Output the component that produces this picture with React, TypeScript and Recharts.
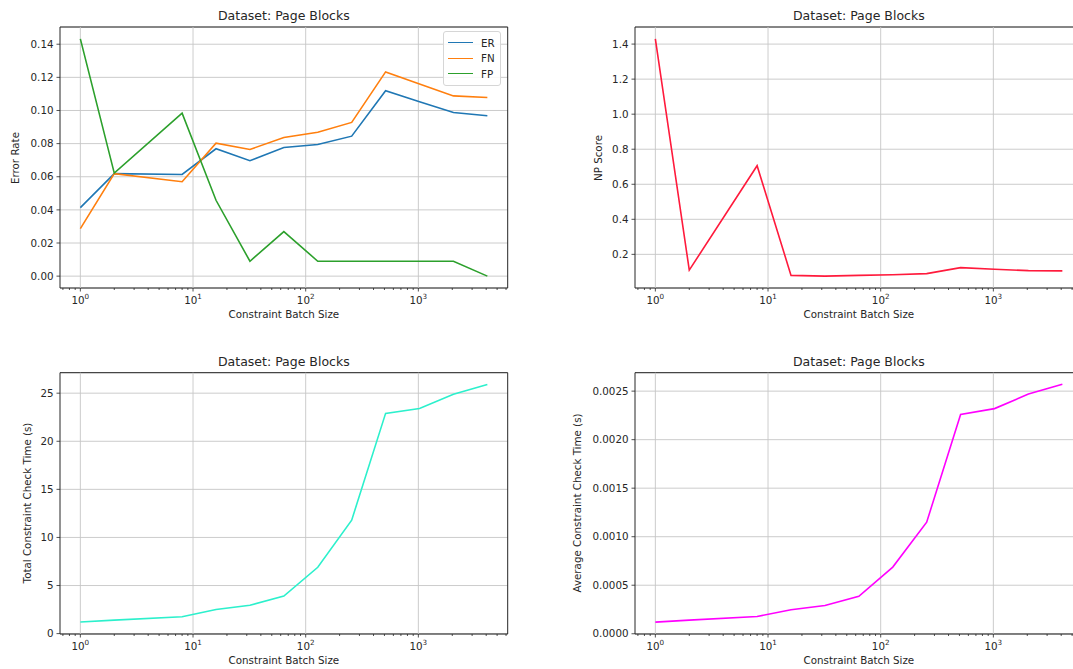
import React from 'react';
import {
  LineChart,
  Line,
  XAxis,
  YAxis,
  CartesianGrid,
  ReferenceLine,
  ReferenceArea,
  Legend,
} from 'recharts';

// x values: constraint batch sizes (log axis)
const batchSizes = [1, 2, 8, 16, 32, 64, 128, 256, 512, 1024, 2048, 4096];

// error rates
const erValues = [0.0414, 0.0619, 0.0614, 0.0769, 0.0697, 0.0777, 0.0795, 0.0845, 0.1119, 0.1053, 0.0988, 0.0968];
const fnValues = [0.0287, 0.0619, 0.057, 0.0803, 0.0765, 0.0837, 0.0869, 0.0928, 0.1233, 0.116, 0.1088, 0.1078];
const fpValues = [0.1432, 0.0622, 0.0984, 0.0458, 0.009, 0.0269, 0.009, 0.009, 0.009, 0.009, 0.009, 0.0];

// NP score
const npScores = [1.43, 0.11, 0.706, 0.08, 0.076, 0.08, 0.084, 0.09, 0.124, 0.115, 0.107, 0.106];

// check times
const totalTimes = [1.2, 1.4, 1.75, 2.5, 2.95, 3.9, 6.9, 11.8, 22.9, 23.4, 24.9, 25.9];
const avgTimes = [0.00012, 0.00014, 0.000178, 0.000248, 0.000292, 0.000385, 0.000687, 0.00115, 0.00226, 0.00232, 0.00247, 0.00257];

// tick labels
const majorTicks = [1, 10, 100, 1000];
const minorTicks = [
  0.7, 0.8, 0.9,
  2, 3, 4, 5, 6, 7, 8, 9,
  20, 30, 40, 50, 60, 70, 80, 90,
  200, 300, 400, 500, 600, 700, 800, 900,
  2000, 3000, 4000, 5000, 6000,
];
const errorTicks = [0, 0.02, 0.04, 0.06, 0.08, 0.1, 0.12, 0.14];
const npTicks = [0.2, 0.4, 0.6, 0.8, 1.0, 1.2, 1.4];
const totalTicks = [0, 5, 10, 15, 20, 25];
const avgTicks = [0, 0.0005, 0.001, 0.0015, 0.002, 0.0025];

const X_DOMAIN: [number, number] = [0.6597, 6208];
const FONT = 'DejaVu Sans, sans-serif';
const INK = '#262626';
const GRID = '#c6c6c6';
const allXTicks = [...majorTicks, ...minorTicks].sort((a, b) => a - b);

type Series = { key: string; name: string; color: string; values: number[] };

const LogTick = (props: any) => {
  const { x, y, payload } = props;
  const v = payload.value;
  const major = majorTicks.includes(v);
  return (
    <g>
      <line x1={x} x2={x} y1={y} y2={y + (major ? 3.5 : 2)} stroke={INK} strokeWidth={0.8} />
      {major && (
        <text x={x} y={y + 16} textAnchor="middle" fill={INK} fontSize={10.3} fontFamily={FONT}>
          10
          <tspan dy={-5} fontSize={7.2}>
            {Math.round(Math.log10(v))}
          </tspan>
        </text>
      )}
    </g>
  );
};

const LegendBox = ({ series }: { series: Series[] }) => (
  <div
    style={{
      border: '1px solid #d6d6d6',
      borderRadius: 3,
      background: 'rgba(255,255,255,0.85)',
      padding: '3px 5px 3px 4px',
      fontFamily: FONT,
      fontSize: 10.3,
      color: INK,
    }}
  >
    {series.map(s => (
      <div key={s.key} style={{ display: 'flex', alignItems: 'center', height: 15.5 }}>
        <div style={{ width: 25, height: 0, borderTop: `1.6px solid ${s.color}`, marginRight: 8 }} />
        <span>{s.name}</span>
      </div>
    ))}
  </div>
);

type PanelProps = {
  left: number;
  top: number;
  width: number;
  height: number;
  plotLeft: number;
  plotTop: number;
  plotW: number;
  plotH: number;
  yDomain: [number, number];
  yTicks: number[];
  yDigits: number;
  series: Series[];
  title: string;
  yLabel: string;
  yLabelX: number;
  legend?: boolean;
};

const Y_AXIS_W = 60;

const Panel = ({
  left, top, width, height, plotLeft, plotTop, plotW, plotH,
  yDomain, yTicks, yDigits, series, title, yLabel, yLabelX, legend,
}: PanelProps) => {
  const rows = batchSizes.map((b, i) => {
    const r: any = { batch: b };
    series.forEach(s => (r[s.key] = s.values[i]));
    return r;
  });
  const xAxisH = height - plotTop - plotH;
  const margin = {
    top: plotTop,
    left: plotLeft - Y_AXIS_W,
    right: width - plotLeft - plotW,
    bottom: 0,
  };
  const cx = plotLeft + plotW / 2;
  const textStyle: React.CSSProperties = {
    position: 'absolute',
    fontFamily: FONT,
    color: INK,
    whiteSpace: 'nowrap',
    lineHeight: 1,
  };

  return (
    <div style={{ position: 'absolute', left, top, width, height }}>
      <LineChart width={width} height={height} data={rows} margin={margin}>
        <CartesianGrid vertical={false} stroke={GRID} strokeWidth={0.9} />
        {majorTicks.map(t => (
          <ReferenceLine key={t} x={t} stroke={GRID} strokeWidth={0.9} />
        ))}
        <XAxis
          dataKey="batch"
          type="number"
          scale="log"
          domain={X_DOMAIN}
          allowDataOverflow
          ticks={allXTicks}
          interval={0}
          tick={<LogTick />}
          tickLine={false}
          axisLine={false}
          tickSize={0}
          tickMargin={0}
          height={xAxisH}
        />
        <YAxis
          type="number"
          domain={yDomain}
          allowDataOverflow
          ticks={yTicks}
          interval={0}
          tickFormatter={(v: number) => v.toFixed(yDigits)}
          tick={{ fill: INK, fontSize: 10.3, fontFamily: FONT }}
          tickLine={{ stroke: INK, strokeWidth: 0.8 }}
          axisLine={false}
          tickSize={3.5}
          tickMargin={3}
          width={Y_AXIS_W}
        />
        {series.map(s => (
          <Line
            key={s.key}
            type="linear"
            dataKey={s.key}
            name={s.name}
            stroke={s.color}
            strokeWidth={1.6}
            dot={false}
            isAnimationActive={false}
          />
        ))}
        <ReferenceArea
          x1={X_DOMAIN[0]}
          x2={X_DOMAIN[1]}
          y1={yDomain[0]}
          y2={yDomain[1]}
          fill="none"
          stroke={INK}
          strokeWidth={1}
          ifOverflow="visible"
        />
        {legend && (
          <Legend
            layout="vertical"
            align="center"
            verticalAlign="middle"
            wrapperStyle={{ left: 443, top: 31, width: 'auto', height: 'auto' }}
            content={() => <LegendBox series={series} />}
          />
        )}
      </LineChart>
      <div style={{ ...textStyle, left: cx, top: plotTop - 11, transform: 'translate(-50%, -50%)', fontSize: 12.5 }}>
        {title}
      </div>
      <div style={{ ...textStyle, left: cx, top: plotTop + plotH + 26, transform: 'translate(-50%, -50%)', fontSize: 10.3 }}>
        Constraint Batch Size
      </div>
      <div
        style={{
          ...textStyle,
          left: yLabelX,
          top: plotTop + plotH / 2,
          transform: 'translate(-50%, -50%) rotate(-90deg)',
          fontSize: 10.3,
        }}
      >
        {yLabel}
      </div>
    </div>
  );
};

const PLOT_W = 447.7;

export default function App() {
  return (
    <div
      style={{
        position: 'fixed',
        left: 0,
        top: 0,
        width: 1073,
        height: 669,
        overflow: 'hidden',
        background: '#fff',
      }}
    >
      <Panel
        left={0}
        top={0}
        width={537}
        height={334}
        plotLeft={60}
        plotTop={27}
        plotW={PLOT_W}
        plotH={261}
        yDomain={[-0.00716, 0.1504]}
        yTicks={errorTicks}
        yDigits={2}
        series={[
          { key: 'er', name: 'ER', color: '#1f77b4', values: erValues },
          { key: 'fn', name: 'FN', color: '#ff7f0e', values: fnValues },
          { key: 'fp', name: 'FP', color: '#2ca02c', values: fpValues },
        ]}
        title="Dataset: Page Blocks"
        yLabel="Error Rate"
        yLabelX={15}
        legend
      />
      <Panel
        left={537}
        top={0}
        width={560}
        height={334}
        plotLeft={98}
        plotTop={27}
        plotW={PLOT_W}
        plotH={261}
        yDomain={[0.008, 1.4975]}
        yTicks={npTicks}
        yDigits={1}
        series={[{ key: 'np', name: 'NP Score', color: '#ff1a3c', values: npScores }]}
        title="Dataset: Page Blocks"
        yLabel="NP Score"
        yLabelX={61}
      />
      <Panel
        left={0}
        top={334}
        width={537}
        height={335}
        plotLeft={60}
        plotTop={38.7}
        plotW={PLOT_W}
        plotH={261.3}
        yDomain={[-0.04, 27.13]}
        yTicks={totalTicks}
        yDigits={0}
        series={[{ key: 'total', name: 'Total', color: '#2cf0cc', values: totalTimes }]}
        title="Dataset: Page Blocks"
        yLabel="Total Constraint Check Time (s)"
        yLabelX={27}
      />
      <Panel
        left={537}
        top={334}
        width={560}
        height={335}
        plotLeft={98}
        plotTop={38.7}
        plotW={PLOT_W}
        plotH={261.3}
        yDomain={[-0.0000025, 0.00269]}
        yTicks={avgTicks}
        yDigits={4}
        series={[{ key: 'avg', name: 'Average', color: '#ff00ff', values: avgTimes }]}
        title="Dataset: Page Blocks"
        yLabel="Average Constraint Check Time (s)"
        yLabelX={40}
      />
    </div>
  );
}
